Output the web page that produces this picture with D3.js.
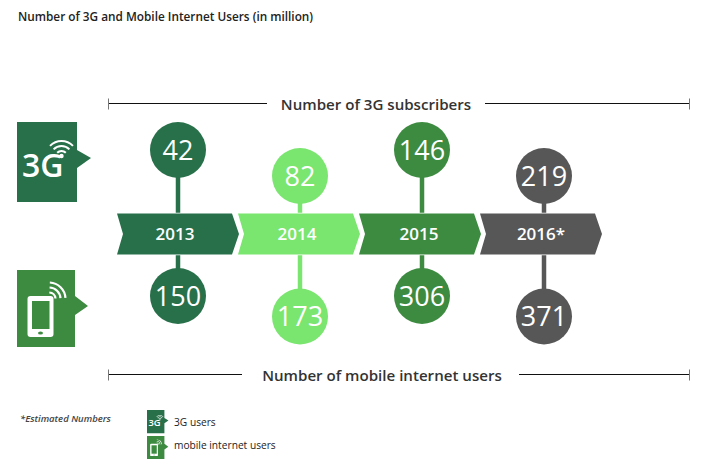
<!DOCTYPE html>
<html>
<head>
<meta charset="utf-8">
<script src="https://cdn.jsdelivr.net/npm/d3@7"></script>
<style>
  html, body { margin: 0; padding: 0; background: #fff; }
  svg { display: block; }
  text { font-family: "Open Sans", sans-serif; }
</style>
</head>
<body>
<svg id="chart" width="713" height="474"></svg>
<script>
var years = [ '2013', '2014', '2015', '2016*' ];
var users_3g = [ 42, 82, 146, 219 ];
var users_mobile = [ 150, 173, 306, 371 ];
var title = 'Number of 3G and Mobile Internet Users (in million)';
var label_3g = 'Number of 3G subscribers';
var label_mobile = 'Number of mobile internet users';
var note = '*Estimated Numbers';
var legend_names = [ '3G users', 'mobile internet users' ];

var year_colors = [ '#27704a', '#7ae56f', '#3d8b41', '#575757' ];
var dark = '#27704a', mid = '#3d8b41';

var svg = d3.select( '#chart' );

var x = d3.scaleBand().domain( years ).range( [ 117, 601 ] ).padding( 0 );
// bubbles sit a little wider apart than the ribbon pieces
var cx = d3.scalePoint().domain( years ).range( [ 178, 544 ] );
// bubbles are staggered, height does not follow the value
var y_top = d3.scaleOrdinal().domain( [ 0, 1 ] ).range( [ 150, 176 ] );
var y_bottom = d3.scaleOrdinal().domain( [ 0, 1 ] ).range( [ 296, 316.5 ] );
var ribbon_top = 213.5, ribbon_bottom = 254.5;
var r = 28;

svg.append( 'text' )
    .attr( 'x', 18 ).attr( 'y', 21 )
    .attr( 'font-size', 11.8 ).attr( 'font-weight', 600 ).attr( 'fill', '#222' )
    .text( title );

function bracket( y, x0, x1, gap0, gap1, label, labelx ) {
    var g = svg.append( 'g' );
    [ [ x0, gap0 ], [ gap1, x1 ] ].forEach( function ( s ) {
        g.append( 'line' ).attr( 'x1', s[0] ).attr( 'x2', s[1] )
            .attr( 'y1', y ).attr( 'y2', y )
            .attr( 'stroke', '#111' ).attr( 'stroke-width', 1 );
    });
    [ x0, x1 ].forEach( function ( t ) {
        g.append( 'line' ).attr( 'x1', t ).attr( 'x2', t )
            .attr( 'y1', y - 5 ).attr( 'y2', y + 6 )
            .attr( 'stroke', '#777' ).attr( 'stroke-width', 1 );
    });
    g.append( 'text' ).attr( 'x', labelx ).attr( 'y', y + 6 )
        .attr( 'text-anchor', 'middle' )
        .attr( 'font-size', 15.1 ).attr( 'font-weight', 600 ).attr( 'fill', '#333' )
        .text( label );
}
bracket( 103.5, 108.5, 689.5, 267, 485, label_3g, 376 );
bracket( 374.5, 108.5, 689.5, 242, 519, label_mobile, 382 );

// stems
function stems( values, yscale ) {
    svg.append( 'g' ).selectAll( 'line' )
        .data( values )
        .enter()
        .append( 'line' )
        .attr( 'x1', function ( d, i ) { return cx( years[i] ); } )
        .attr( 'x2', function ( d, i ) { return cx( years[i] ); } )
        .attr( 'y1', function ( d, i ) { return yscale( i % 2 ); } )
        .attr( 'y2', 234 )
        .attr( 'stroke', function ( d, i ) { return year_colors[i]; } )
        .attr( 'stroke-width', 4.5 );
}
stems( users_3g, y_top );
stems( users_mobile, y_bottom );

// ribbon, later years go first so each tip lies over the next one
function chevron( d ) {
    var l = x( d ), w = x.bandwidth(), t = ribbon_top, b = ribbon_bottom, m = ( t + b ) / 2;
    return d3.line()( [ [ l, t ], [ l + w - 6, t ], [ l + w + 1, m ], [ l + w - 6, b ], [ l, b ], [ l + 6, m ] ] ) + 'Z';
}
var ribbon = svg.append( 'g' ).selectAll( 'g' )
    .data( years.slice().reverse() )
    .enter()
    .append( 'g' );
ribbon.append( 'path' )
    .attr( 'd', chevron )
    .attr( 'fill', function ( d ) { return year_colors[ years.indexOf( d ) ]; } )
    .attr( 'stroke', '#fff' ).attr( 'stroke-width', 1.5 )
    .attr( 'paint-order', 'stroke' );
ribbon.append( 'text' )
    .attr( 'x', function ( d ) { return cx( d ) - 3; } )
    .attr( 'y', 240 )
    .attr( 'text-anchor', 'middle' )
    .attr( 'font-size', 17 ).attr( 'font-weight', 600 ).attr( 'fill', '#fff' )
    .text( function ( d ) { return d; } );

// bubbles
function bubbles( values, yscale ) {
    var g = svg.append( 'g' ).selectAll( 'g' )
        .data( values )
        .enter()
        .append( 'g' )
        .attr( 'transform', function ( d, i ) { return 'translate(' + cx( years[i] ) + ',' + yscale( i % 2 ) + ')'; } );
    g.append( 'circle' )
        .attr( 'r', r )
        .attr( 'fill', function ( d, i ) { return year_colors[i]; } );
    g.append( 'text' )
        .attr( 'y', 9.5 )
        .attr( 'text-anchor', 'middle' )
        .attr( 'font-size', 27 ).attr( 'fill', '#fff' )
        .text( function ( d ) { return d; } );
}
bubbles( users_3g, y_top );
bubbles( users_mobile, y_bottom );

// wifi arcs, all of them drawn from one spot
function waves( g, px, py, radii, from, to, w ) {
    var arc = d3.arc();
    radii.forEach( function ( rad ) {
        g.append( 'path' )
            .attr( 'transform', 'translate(' + px + ',' + py + ')' )
            .attr( 'd', arc( { innerRadius: rad - w / 2, outerRadius: rad + w / 2, startAngle: from, endAngle: to } ) )
            .attr( 'fill', '#fff' );
    });
}

// icons are laid out in a 60x80 box and then scaled
function icon_3g( px, py, s ) {
    var g = svg.append( 'g' ).attr( 'transform', 'translate(' + px + ',' + py + ') scale(' + s + ')' );
    g.append( 'path' )
        .attr( 'd', 'M0,0H60V28L74,36L60,46V80H0Z' )
        .attr( 'fill', dark );
    g.append( 'text' ).attr( 'x', 5 ).attr( 'y', 55 )
        .attr( 'font-size', 32 ).attr( 'font-weight', 600 ).attr( 'fill', '#fff' )
        .text( '3G' );
    g.append( 'circle' ).attr( 'cx', 44.5 ).attr( 'cy', 34 ).attr( 'r', 2.2 ).attr( 'fill', '#fff' );
    waves( g, 44.5, 35, [ 6, 11, 16 ], -0.8, 0.8, 2 );
}
function icon_mobile( px, py, s ) {
    var g = svg.append( 'g' ).attr( 'transform', 'translate(' + px + ',' + py + ') scale(' + s + ')' );
    g.append( 'path' )
        .attr( 'd', 'M0,0H58V26L71,36L58,45V77H0Z' )
        .attr( 'fill', mid );
    g.append( 'rect' )
        .attr( 'x', 10.5 ).attr( 'y', 26 ).attr( 'width', 26 ).attr( 'height', 41 ).attr( 'rx', 3 )
        .attr( 'fill', '#fff' );
    g.append( 'rect' )
        .attr( 'x', 15 ).attr( 'y', 31 ).attr( 'width', 17.5 ).attr( 'height', 28 )
        .attr( 'fill', mid );
    g.append( 'ellipse' ).attr( 'cx', 23.5 ).attr( 'cy', 63 ).attr( 'rx', 2.5 ).attr( 'ry', 1.5 ).attr( 'fill', mid );
    waves( g, 32, 29, [ 6.5, 11.5, 16.5 ], 0.05, 1.5, 2.2 );
}
icon_3g( 17, 122, 1 );
icon_mobile( 17, 270, 1 );
icon_3g( 147, 410, 0.29 );
icon_mobile( 147, 436, 0.3 );

svg.append( 'text' )
    .attr( 'x', 20 ).attr( 'y', 422 )
    .attr( 'font-size', 9.5 ).attr( 'font-style', 'italic' ).attr( 'font-weight', 600 ).attr( 'fill', '#444' )
    .text( note );

svg.append( 'g' ).selectAll( 'text' )
    .data( legend_names )
    .enter()
    .append( 'text' )
    .attr( 'x', 174 )
    .attr( 'y', function ( d, i ) { return 426 + i * 23; } )
    .attr( 'font-size', 10.2 ).attr( 'fill', '#222' )
    .text( function ( d ) { return d; } );
</script>
</body>
</html>
